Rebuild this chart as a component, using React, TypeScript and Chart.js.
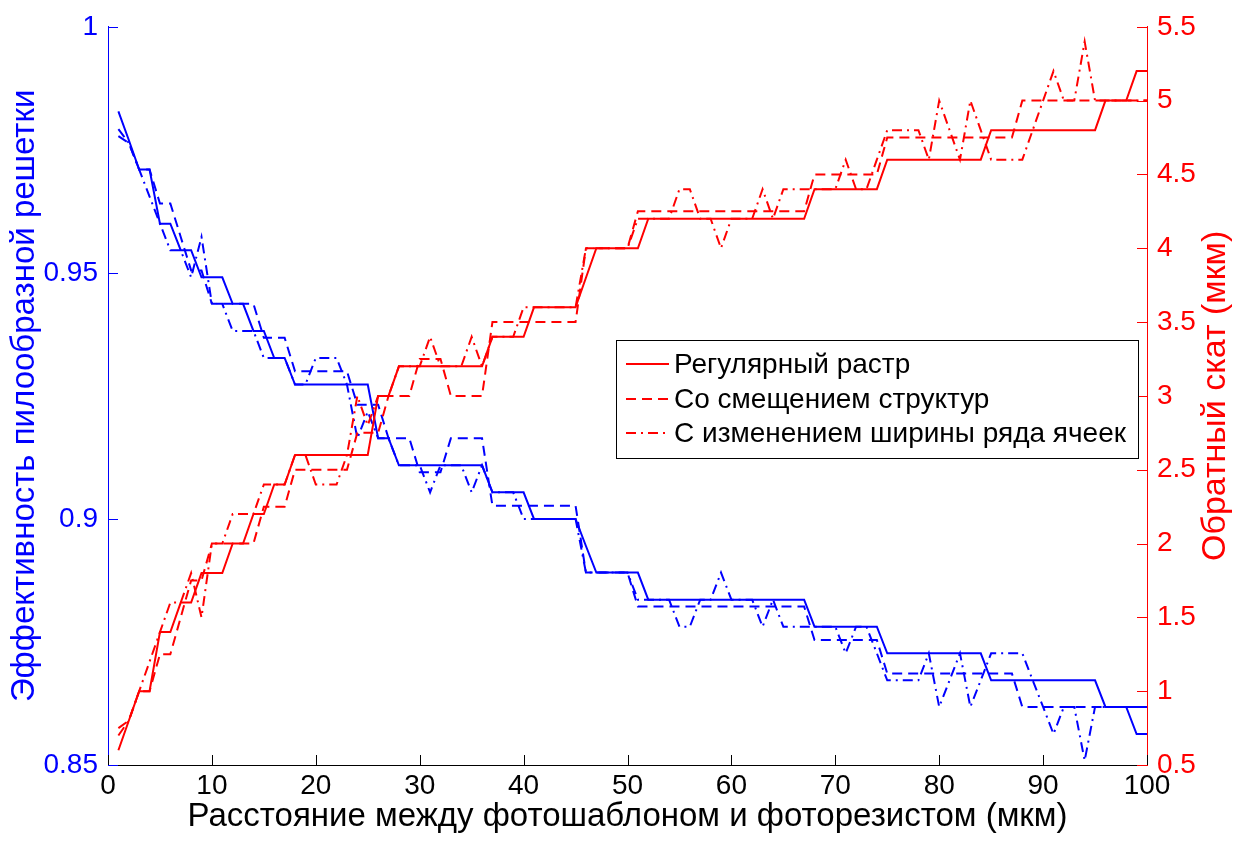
import React, { useEffect, useRef } from 'react';
import { Chart, registerables } from 'chart.js';

Chart.register(...registerables);

// Distance between photomask and photoresist (µm)
const distance = [
  1, 2, 3, 4, 5, 6, 7, 8, 9, 10,
  11, 12, 13, 14, 15, 16, 17, 18, 19, 20,
  21, 22, 23, 24, 25, 26, 27, 28, 29, 30,
  31, 32, 33, 34, 35, 36, 37, 38, 39, 40,
  41, 42, 43, 44, 45, 46, 47, 48, 49, 50,
  51, 52, 53, 54, 55, 56, 57, 58, 59, 60,
  61, 62, 63, 64, 65, 66, 67, 68, 69, 70,
  71, 72, 73, 74, 75, 76, 77, 78, 79, 80,
  81, 82, 83, 84, 85, 86, 87, 88, 89, 90,
  91, 92, 93, 94, 95, 96, 97, 98, 99, 100,
];

// Left axis: grating efficiency
const effRegular = [
  0.9828, 0.977, 0.971, 0.971, 0.96, 0.96, 0.9546, 0.9546, 0.9491, 0.9491,
  0.9491, 0.9437, 0.9437, 0.9382, 0.9382, 0.9327, 0.9327, 0.9273, 0.9273, 0.9273,
  0.9273, 0.9273, 0.9273, 0.9273, 0.9273, 0.9164, 0.9164, 0.9109, 0.9109, 0.9109,
  0.9109, 0.9109, 0.9109, 0.9109, 0.9109, 0.9109, 0.9054, 0.9054, 0.9054, 0.9054,
  0.9, 0.9, 0.9, 0.9, 0.9, 0.8945, 0.8891, 0.8891, 0.8891, 0.8891,
  0.8891, 0.8836, 0.8836, 0.8836, 0.8836, 0.8836, 0.8836, 0.8836, 0.8836, 0.8836,
  0.8836, 0.8836, 0.8836, 0.8836, 0.8836, 0.8836, 0.8836, 0.8781, 0.8781, 0.8781,
  0.8781, 0.8781, 0.8781, 0.8781, 0.8727, 0.8727, 0.8727, 0.8727, 0.8727, 0.8727,
  0.8727, 0.8727, 0.8727, 0.8727, 0.8672, 0.8672, 0.8672, 0.8672, 0.8672, 0.8672,
  0.8672, 0.8672, 0.8672, 0.8672, 0.8672, 0.8618, 0.8618, 0.8618, 0.8563, 0.8563,
];
const effShift = [
  0.9778, 0.9764, 0.971, 0.971, 0.9641, 0.9641, 0.9573, 0.9505, 0.9505, 0.9437,
  0.9437, 0.9437, 0.9437, 0.9437, 0.9368, 0.9368, 0.9368, 0.93, 0.93, 0.93,
  0.93, 0.93, 0.93, 0.9232, 0.9232, 0.9232, 0.9164, 0.9164, 0.9164, 0.9095,
  0.9095, 0.9095, 0.9164, 0.9164, 0.9164, 0.9164, 0.9027, 0.9027, 0.9027, 0.9027,
  0.9027, 0.9027, 0.9027, 0.9027, 0.9027, 0.8891, 0.8891, 0.8891, 0.8891, 0.8891,
  0.8822, 0.8822, 0.8822, 0.8822, 0.8822, 0.8822, 0.8822, 0.8822, 0.8822, 0.8822,
  0.8822, 0.8822, 0.8822, 0.8822, 0.8822, 0.8822, 0.8822, 0.8754, 0.8754, 0.8754,
  0.8754, 0.8754, 0.8754, 0.8754, 0.8686, 0.8686, 0.8686, 0.8686, 0.8686, 0.8686,
  0.8686, 0.8686, 0.8686, 0.8686, 0.8686, 0.8686, 0.8686, 0.8618, 0.8618, 0.8618,
  0.8618, 0.8618, 0.8618, 0.8618, 0.8618, 0.8618, 0.8618, 0.8618, 0.8618, 0.8618,
];
const effWidth = [
  0.9792, 0.9764, 0.971, 0.9655, 0.96, 0.9546, 0.9546, 0.9491, 0.9573, 0.9437,
  0.9437, 0.9382, 0.9382, 0.9382, 0.9327, 0.9327, 0.9327, 0.9273, 0.9273, 0.9327,
  0.9327, 0.9327, 0.9273, 0.9164, 0.9218, 0.9164, 0.9164, 0.9109, 0.9109, 0.9109,
  0.9054, 0.9109, 0.9109, 0.9109, 0.9054, 0.9109, 0.9054, 0.9054, 0.9054, 0.9,
  0.9, 0.9, 0.9, 0.9, 0.9, 0.8891, 0.8891, 0.8891, 0.8891, 0.8891,
  0.8836, 0.8836, 0.8836, 0.8836, 0.8781, 0.8781, 0.8836, 0.8836, 0.8891, 0.8836,
  0.8836, 0.8836, 0.8781, 0.8836, 0.8781, 0.8781, 0.8781, 0.8781, 0.8781, 0.8781,
  0.8727, 0.8781, 0.8781, 0.8727, 0.8672, 0.8672, 0.8672, 0.8672, 0.8727, 0.8618,
  0.8672, 0.8727, 0.8618, 0.8672, 0.8727, 0.8727, 0.8727, 0.8727, 0.8672, 0.8618,
  0.8563, 0.8618, 0.8618, 0.8509, 0.8618, 0.8618, 0.8618, 0.8618, 0.8618, 0.8618,
];

// Right axis: back slope (µm)
const slopeRegular = [
  0.6, 0.8, 1.0, 1.0, 1.4, 1.4, 1.6, 1.6, 1.8, 1.8,
  1.8, 2.0, 2.0, 2.2, 2.2, 2.4, 2.4, 2.6, 2.6, 2.6,
  2.6, 2.6, 2.6, 2.6, 2.6, 3.0, 3.0, 3.2, 3.2, 3.2,
  3.2, 3.2, 3.2, 3.2, 3.2, 3.2, 3.4, 3.4, 3.4, 3.4,
  3.6, 3.6, 3.6, 3.6, 3.6, 3.8, 4.0, 4.0, 4.0, 4.0,
  4.0, 4.2, 4.2, 4.2, 4.2, 4.2, 4.2, 4.2, 4.2, 4.2,
  4.2, 4.2, 4.2, 4.2, 4.2, 4.2, 4.2, 4.4, 4.4, 4.4,
  4.4, 4.4, 4.4, 4.4, 4.6, 4.6, 4.6, 4.6, 4.6, 4.6,
  4.6, 4.6, 4.6, 4.6, 4.8, 4.8, 4.8, 4.8, 4.8, 4.8,
  4.8, 4.8, 4.8, 4.8, 4.8, 5.0, 5.0, 5.0, 5.2, 5.2,
];
const slopeShift = [
  0.75, 0.8, 1.0, 1.0, 1.25, 1.25, 1.5, 1.75, 1.75, 2.0,
  2.0, 2.0, 2.0, 2.0, 2.25, 2.25, 2.25, 2.5, 2.5, 2.5,
  2.5, 2.5, 2.5, 2.75, 2.75, 2.75, 3.0, 3.0, 3.0, 3.25,
  3.25, 3.25, 3.0, 3.0, 3.0, 3.0, 3.5, 3.5, 3.5, 3.5,
  3.5, 3.5, 3.5, 3.5, 3.5, 4.0, 4.0, 4.0, 4.0, 4.0,
  4.25, 4.25, 4.25, 4.25, 4.25, 4.25, 4.25, 4.25, 4.25, 4.25,
  4.25, 4.25, 4.25, 4.25, 4.25, 4.25, 4.25, 4.5, 4.5, 4.5,
  4.5, 4.5, 4.5, 4.5, 4.75, 4.75, 4.75, 4.75, 4.75, 4.75,
  4.75, 4.75, 4.75, 4.75, 4.75, 4.75, 4.75, 5.0, 5.0, 5.0,
  5.0, 5.0, 5.0, 5.0, 5.0, 5.0, 5.0, 5.0, 5.0, 5.0,
];
const slopeWidth = [
  0.7, 0.8, 1.0, 1.2, 1.4, 1.6, 1.6, 1.8, 1.5, 2.0,
  2.0, 2.2, 2.2, 2.2, 2.4, 2.4, 2.4, 2.6, 2.6, 2.4,
  2.4, 2.4, 2.6, 3.0, 2.8, 3.0, 3.0, 3.2, 3.2, 3.2,
  3.4, 3.2, 3.2, 3.2, 3.4, 3.2, 3.4, 3.4, 3.4, 3.6,
  3.6, 3.6, 3.6, 3.6, 3.6, 4.0, 4.0, 4.0, 4.0, 4.0,
  4.2, 4.2, 4.2, 4.2, 4.4, 4.4, 4.2, 4.2, 4.0, 4.2,
  4.2, 4.2, 4.4, 4.2, 4.4, 4.4, 4.4, 4.4, 4.4, 4.4,
  4.6, 4.4, 4.4, 4.6, 4.8, 4.8, 4.8, 4.8, 4.6, 5.0,
  4.8, 4.6, 5.0, 4.8, 4.6, 4.6, 4.6, 4.6, 4.8, 5.0,
  5.2, 5.0, 5.0, 5.4, 5.0, 5.0, 5.0, 5.0, 5.0, 5.0,
];

const xTicks = [0, 10, 20, 30, 40, 50, 60, 70, 80, 90, 100];
const leftTicks = [0.85, 0.9, 0.95, 1];
const rightTicks = [0.5, 1, 1.5, 2, 2.5, 3, 3.5, 4, 4.5, 5, 5.5];

const xTitle = 'Расстояние между фотошаблоном и фоторезистом (мкм)';
const leftTitle = 'Эффективность пилообразной решетки';
const rightTitle = 'Обратный скат (мкм)';
const legendLabels = ['Регулярный растр', 'Со смещением структур', 'С изменением ширины ряда ячеек'];

const FONT = "'Liberation Sans', Arial, Helvetica, sans-serif";
const BLUE = '#0000ff';
const RED = '#ff0000';
const SOLID: number[] = [];
const DASH = [10, 6];
const DASHDOT = [10, 5, 2, 5];
const dashes = [SOLID, DASH, DASHDOT];

const pts = (ys: number[]) => distance.map((x, i) => ({ x, y: ys[i] }));

const tickMarks = {
  id: 'tickMarks',
  afterDatasetsDraw(chart: any) {
    const { ctx, chartArea: a, scales } = chart;
    const len = 10;
    ctx.save();
    ctx.lineWidth = 1;
    ctx.strokeStyle = '#000';
    ctx.beginPath();
    xTicks.forEach((v) => {
      const px = Math.round(scales.x.getPixelForValue(v)) + 0.5;
      ctx.moveTo(px, a.bottom);
      ctx.lineTo(px, a.bottom - len);
    });
    ctx.stroke();
    ctx.strokeStyle = BLUE;
    ctx.beginPath();
    leftTicks.forEach((v) => {
      const py = Math.round(scales.yL.getPixelForValue(v)) + 0.5;
      ctx.moveTo(a.left, py);
      ctx.lineTo(a.left + len, py);
    });
    ctx.stroke();
    ctx.strokeStyle = RED;
    ctx.beginPath();
    rightTicks.forEach((v) => {
      const py = Math.round(scales.yR.getPixelForValue(v)) + 0.5;
      ctx.moveTo(a.right, py);
      ctx.lineTo(a.right - len, py);
    });
    ctx.stroke();
    ctx.restore();
  },
};

const extras = {
  id: 'extras',
  afterDraw(chart: any) {
    const { ctx, chartArea: a } = chart;
    ctx.save();
    // right axis title, reading bottom to top
    ctx.translate(1216, (a.top + a.bottom) / 2);
    ctx.rotate(-Math.PI / 2);
    ctx.fillStyle = RED;
    ctx.font = `34px ${FONT}`;
    ctx.textAlign = 'center';
    ctx.textBaseline = 'middle';
    ctx.fillText(rightTitle, 0, 0);
    ctx.restore();

    // legend
    const bx = 616, by = 340, bw = 522, bh = 118;
    ctx.save();
    ctx.fillStyle = '#fff';
    ctx.fillRect(bx, by, bw, bh);
    ctx.strokeStyle = '#000';
    ctx.lineWidth = 1;
    ctx.strokeRect(bx + 0.5, by + 0.5, bw, bh);
    const rows = [364, 399, 433];
    ctx.font = `28px ${FONT}`;
    ctx.textBaseline = 'middle';
    ctx.textAlign = 'left';
    legendLabels.forEach((lab, i) => {
      ctx.strokeStyle = RED;
      ctx.lineWidth = 2;
      ctx.setLineDash(dashes[i]);
      ctx.beginPath();
      ctx.moveTo(626, rows[i]);
      ctx.lineTo(669, rows[i]);
      ctx.stroke();
      ctx.setLineDash([]);
      ctx.fillStyle = '#000';
      ctx.fillText(lab, 674, rows[i] + 1);
    });
    ctx.restore();
  },
};

export default function App() {
  const ref = useRef<HTMLCanvasElement | null>(null);
  useEffect(() => {
    if (!ref.current) return;
    const mk = (label: string, ys: number[], color: string, dash: number[], axis: string) => ({
      label,
      data: pts(ys),
      borderColor: color,
      backgroundColor: color,
      borderWidth: 2,
      borderDash: dash,
      pointRadius: 0,
      tension: 0,
      fill: false,
      yAxisID: axis,
    });
    const chart = new Chart(ref.current, {
      type: 'line',
      data: {
        datasets: [
          mk(legendLabels[0], slopeRegular, RED, SOLID, 'yR'),
          mk(legendLabels[1], slopeShift, RED, DASH, 'yR'),
          mk(legendLabels[2], slopeWidth, RED, DASHDOT, 'yR'),
          mk(legendLabels[0], effRegular, BLUE, SOLID, 'yL'),
          mk(legendLabels[1], effShift, BLUE, DASH, 'yL'),
          mk(legendLabels[2], effWidth, BLUE, DASHDOT, 'yL'),
        ],
      },
      options: {
        responsive: false,
        animation: false,
        devicePixelRatio: 1,
        layout: { padding: { top: 22, left: 0, right: 0, bottom: 0 } },
        plugins: { legend: { display: false }, tooltip: { enabled: false } },
        scales: {
          x: {
            type: 'linear',
            position: 'bottom',
            min: 0,
            max: 100,
            afterBuildTicks: (s: any) => { s.ticks = xTicks.map((value) => ({ value })); },
            afterFit: (s: any) => { s.height = 76; },
            ticks: { color: '#000', font: { family: FONT, size: 28 }, padding: 4, maxRotation: 0, autoSkip: false },
            grid: { display: false, drawTicks: false },
            border: { display: true, color: '#000', width: 1 },
            title: { display: true, text: xTitle, color: '#000', font: { family: FONT, size: 33 }, padding: { top: 0, bottom: 4 } },
          },
          yL: {
            type: 'linear',
            position: 'left',
            min: 0.85,
            max: 1,
            afterBuildTicks: (s: any) => { s.ticks = leftTicks.map((value) => ({ value })); },
            afterFit: (s: any) => { s.width = 108; },
            ticks: { color: BLUE, font: { family: FONT, size: 28 }, padding: 10, callback: (v: any) => String(v) },
            grid: { display: false, drawTicks: false },
            border: { display: true, color: BLUE, width: 1 },
            title: { display: true, text: leftTitle, color: BLUE, font: { family: FONT, size: 33 }, padding: { top: 5, bottom: 0 } },
          },
          yR: {
            type: 'linear',
            position: 'right',
            min: 0.5,
            max: 5.5,
            afterBuildTicks: (s: any) => { s.ticks = rightTicks.map((value) => ({ value })); },
            afterFit: (s: any) => { s.width = 92; },
            ticks: { color: RED, font: { family: FONT, size: 28 }, padding: 10, callback: (v: any) => String(v) },
            grid: { display: false, drawTicks: false },
            border: { display: true, color: RED, width: 1 },
          },
        },
      } as any,
      plugins: [tickMarks, extras],
    });
    return () => chart.destroy();
  }, []);
  return (
    <div style={{ position: 'absolute', left: 0, top: 0, width: 1239, height: 841, background: '#fff' }}>
      <canvas ref={ref} width={1239} height={841} style={{ display: 'block', width: 1239, height: 841 }} />
    </div>
  );
}
